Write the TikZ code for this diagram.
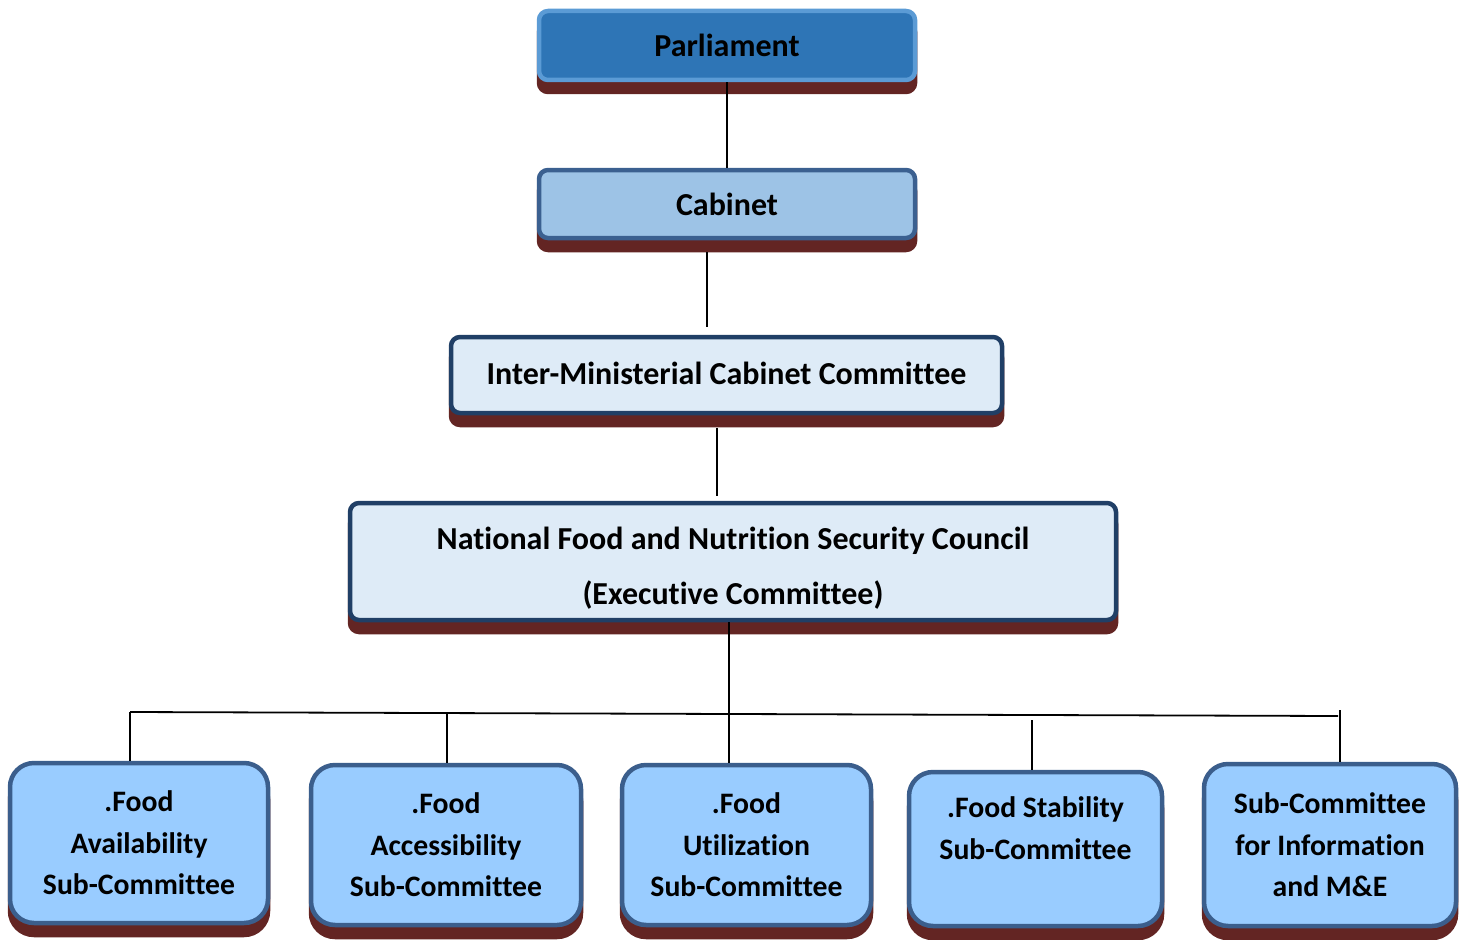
\documentclass[tikz,border=0pt]{standalone}
\usepackage{fontspec}
\setmainfont{Carlito}[Ligatures=NoCommon]
\usetikzlibrary{shadows}
\definecolor{shred}{HTML}{632523}
\definecolor{parlfill}{HTML}{2E75B6}
\definecolor{parlborder}{HTML}{5B9BD5}
\definecolor{cabfill}{HTML}{9DC3E6}
\definecolor{cabborder}{HTML}{3B6090}
\definecolor{palefill}{HTML}{DEEBF7}
\definecolor{navyborder}{HTML}{203F66}
\definecolor{subfill}{HTML}{99CCFF}
\definecolor{subborder}{HTML}{3B5E8C}
\tikzset{
  box/.style={rectangle, rounded corners=9pt, line width=4.5pt, align=center,
    font=\fontsize{32}{40}\selectfont\bfseries, inner sep=0pt,
    drop shadow={shadow xshift=0pt, shadow yshift=-12pt, fill=shred, draw=shred, line width=4.5pt, opacity=1}},
  topbox/.style={box, fill=parlfill, draw=parlborder},
  cabbox/.style={box, fill=cabfill, draw=cabborder},
  palebox/.style={box, fill=palefill, draw=navyborder},
  subbox/.style={box, rounded corners=24pt, fill=subfill, draw=subborder,
    font=\fontsize{29.7}{41.5}\selectfont\bfseries},
  boxtext/.style={align=center, inner sep=0pt},
  conn/.style={draw=black, line width=1.8pt}
}
\begin{document}
\begin{tikzpicture}[x=1pt,y=-1pt]
\useasboundingbox (0,0) rectangle (1466,939);
\node[topbox, minimum width=376pt, minimum height=69pt] (parl) at (727,45.5) {Parliament};
\node[cabbox, minimum width=376pt, minimum height=68pt] (cab) at (727,204) {\raisebox{-2pt}{Cabinet}};
\node[palebox, minimum width=551pt, minimum height=76pt] (imcc) at (726.5,375) {\raisebox{4pt}{Inter-Ministerial Cabinet Committee}};
\node[palebox, minimum width=766pt, minimum height=117pt,
  label={[boxtext, font=\fontsize{32}{55}\selectfont\bfseries, yshift=-7pt]center:{National Food and Nutrition Security Council\\(Executive Committee)}}] (nat) at (733,561.5) {};
\node[subbox, minimum width=258pt, minimum height=160pt] (b1) at (139,843) {.Food\\Availability\\Sub-Committee};
\node[subbox, minimum width=270pt, minimum height=160pt] (b2) at (446,845) {.Food\\Accessibility\\Sub-Committee};
\node[subbox, minimum width=249pt, minimum height=160pt] (b3) at (746.5,845) {.Food\\Utilization\\Sub-Committee};
\node[subbox, minimum width=253pt, minimum height=154pt] (b4) at (1035.5,849) {.Food Stability\\Sub-Committee\\\phantom{Sub-Committee}};
\node[subbox, minimum width=252pt, minimum height=162pt] (b5) at (1330,845) {Sub-Committee\\for Information\\and M\&E};
% connectors
\draw[conn] (parl.south) -- (cab.north);
\coordinate (c1) at (707,252);
\coordinate (c2) at (707,327);
\draw[conn] (c1) -- (c2);
\coordinate (i1) at (717,428);
\coordinate (i2) at (717,496);
\draw[conn] (i1) -- (i2);
\draw[conn] (nat.south -| 729,0) -- (b3.north -| 729,0);
\coordinate (busL) at (130,712);
\coordinate (busR) at (1338,716);
\draw[conn] (busL) -- (busR);
\draw[conn] (busL) -- (busL |- b1.north);
\coordinate (t2) at (447,713);
\draw[conn] (t2) -- (t2 |- b2.north);
\coordinate (t4) at (1032,720);
\draw[conn] (t4) -- (t4 |- b4.north);
\coordinate (t5) at (1340,710);
\draw[conn] (t5) -- (t5 |- b5.north);
\end{tikzpicture}
\end{document}
